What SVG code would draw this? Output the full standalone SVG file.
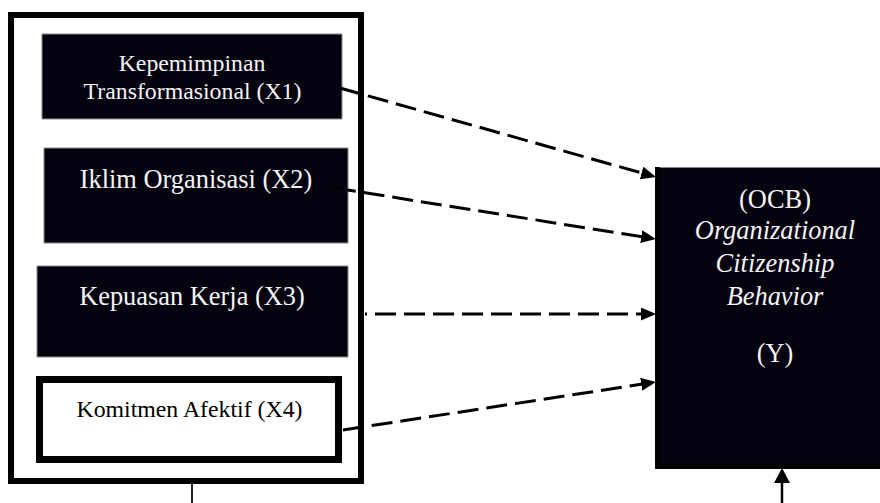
<svg xmlns="http://www.w3.org/2000/svg" width="880" height="503" viewBox="0 0 880 503">
  <style>
    .dark { fill: #04030f; stroke: #8a8a8a; stroke-width: 1; }
    .wt { font-family: "Liberation Serif", "Times New Roman", serif; fill: #f4f4f4; text-anchor: middle; }
    .bt { font-family: "Liberation Serif", "Times New Roman", serif; fill: #000; text-anchor: middle; }
    .dash { stroke: #000; stroke-width: 3; fill: none; stroke-dasharray: 21 8; marker-end: url(#ah); }
  </style>
  <defs>
    <marker id="ah" markerUnits="userSpaceOnUse" markerWidth="16" markerHeight="14" refX="11" refY="6.5" orient="auto">
      <path d="M0,0 L15,6.5 L0,13 Z" fill="#000"/>
    </marker>
    <marker id="ah2" markerUnits="userSpaceOnUse" markerWidth="16" markerHeight="17" refX="11" refY="8" orient="auto">
      <path d="M0,0 L15,8 L0,16 Z" fill="#000"/>
    </marker>
  </defs>
  <rect width="880" height="503" fill="#fff"/>

  <g id="group-x">
    <rect x="11" y="15" width="350" height="466" fill="#fff" stroke="#000" stroke-width="6"/>
  </g>

  <g id="x1">
    <rect class="dark" x="42" y="34" width="300" height="85"/>
    <text class="wt" x="192" y="71" font-size="23.8">Kepemimpinan</text>
    <text class="wt" x="192.5" y="99" font-size="23.8">Transformasional (X1)</text>
  </g>

  <g id="x2">
    <rect class="dark" x="44" y="148" width="304" height="95"/>
    <text class="wt" x="196" y="188" font-size="26.4">Iklim Organisasi (X2)</text>
  </g>

  <g id="x3">
    <rect class="dark" x="37" y="266" width="311" height="91"/>
    <text class="wt" x="192" y="305" font-size="26.4">Kepuasan Kerja (X3)</text>
  </g>

  <g id="x4">
    <rect x="39.5" y="379.5" width="299" height="80" fill="#fff" stroke="#000" stroke-width="7"/>
    <text class="bt" x="189.5" y="417" font-size="23.8">Komitmen Afektif (X4)</text>
  </g>

  <g id="y">
    <rect class="dark" x="655.5" y="167.5" width="260" height="301"/>
    <path d="M657.5,167 L657.5,466.5 L880,466.5" fill="none" stroke="#000" stroke-width="5"/>
    <text class="wt" x="775" y="208" font-size="26.4">(OCB)</text>
    <text class="wt" x="775" y="239" font-size="26.4" font-style="italic">Organizational</text>
    <text class="wt" x="775" y="272" font-size="26.4" font-style="italic">Citizenship</text>
    <text class="wt" x="775" y="305" font-size="26.4" font-style="italic">Behavior</text>
    <text class="wt" x="775" y="362" font-size="26.4">(Y)</text>
  </g>

  <g id="connectors">
    <line class="dash" x1="340" y1="88" x2="652.15" y2="175.9"/>
    <line class="dash" x1="335" y1="188" x2="652.05" y2="238.4"/>
    <line class="dash" x1="365" y1="314" x2="652" y2="314" stroke-dashoffset="19"/>
    <line class="dash" x1="343" y1="430" x2="652.05" y2="382.6"/>
    <line x1="192" y1="484" x2="192" y2="503" stroke="#222" stroke-width="2"/>
    <line x1="782" y1="503" x2="782" y2="472" stroke="#000" stroke-width="2.5" marker-end="url(#ah2)"/>
  </g>
</svg>
